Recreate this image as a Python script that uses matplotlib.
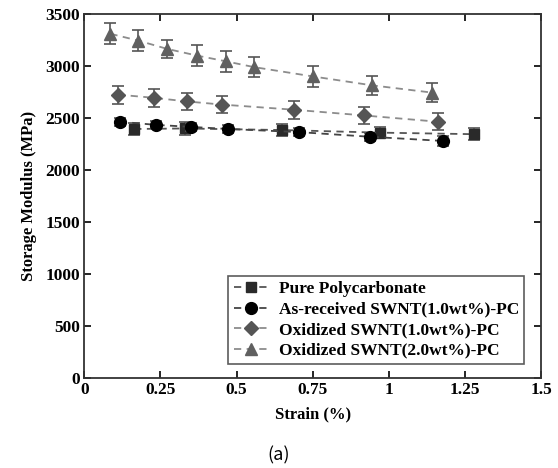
import matplotlib
matplotlib.use("Agg")
import matplotlib.pyplot as plt

# Storage modulus vs strain
pc_strain = [0.164, 0.330, 0.650, 0.970, 1.280]
pc_mod = [2395, 2400, 2385, 2360, 2345]
pc_err = [60, 60, 60, 55, 55]

asr_strain = [0.116, 0.234, 0.351, 0.473, 0.705, 0.939, 1.179]
asr_mod = [2465, 2435, 2415, 2395, 2365, 2320, 2280]
asr_err = [40, 35, 35, 35, 35, 40, 45]

ox1_strain = [0.111, 0.228, 0.336, 0.451, 0.689, 0.919, 1.160]
ox1_mod = [2725, 2695, 2660, 2630, 2580, 2525, 2465]
ox1_err = [85, 85, 80, 85, 85, 85, 80]

ox2_strain = [0.086, 0.177, 0.272, 0.371, 0.466, 0.557, 0.751, 0.944, 1.141]
ox2_mod = [3310, 3245, 3165, 3100, 3045, 2990, 2900, 2815, 2745]
ox2_err = [100, 100, 90, 100, 100, 95, 100, 90, 90]

labels = ["Pure Polycarbonate", "As-received SWNT(1.0wt%)-PC",
          "Oxidized SWNT(1.0wt%)-PC", "Oxidized SWNT(2.0wt%)-PC"]

plt.rcParams["font.family"] = ["Liberation Serif", "DejaVu Serif"]
plt.rcParams["font.weight"] = "bold"

fig = plt.figure(figsize=(5.58, 4.68), dpi=100)
ax = fig.add_axes([0.151, 0.192, 0.819, 0.778])

series = [
    (pc_strain, pc_mod, pc_err, "s", "#2a2a2a", "#555555", 7),
    (asr_strain, asr_mod, asr_err, "o", "#000000", "#444444", 8.5),
    (ox1_strain, ox1_mod, ox1_err, "D", "#555555", "#8c8c8c", 7),
    (ox2_strain, ox2_mod, ox2_err, "^", "#606060", "#8c8c8c", 9),
]
for (x, y, e, m, c, lc, ms), lab in zip(series, labels):
    # error bars first, then the dashed trend line with markers on top
    ax.errorbar(x, y, yerr=e, fmt="none", ecolor="#555555", elinewidth=1.2,
                capsize=4, capthick=1.2)
    ax.plot(x, y, linestyle=(0, (4, 3)), color=lc, lw=1.3,
            marker=m, ms=ms, mfc=c, mec=c, label=lab)

ax.set_xlim(0, 1.5)
ax.set_ylim(0, 3500)
ax.set_xticks([0, 0.25, 0.5, 0.75, 1, 1.25, 1.5])
ax.set_xticklabels(["0", "0.25", "0.5", "0.75", "1", "1.25", "1.5"])
ax.set_yticks(range(0, 3501, 500))
ax.tick_params(direction="in", top=True, right=True, length=5, width=1.2,
               labelsize=12.5, pad=3)
for sp in ax.spines.values():
    sp.set_linewidth(1.3)
    sp.set_color("#333333")

ax.set_xlabel("Strain (%)", fontsize=12, fontweight="bold", labelpad=6)
ax.set_ylabel("Storage Modulus (MPa)", fontsize=12, fontweight="bold",
              labelpad=6)

leg = ax.legend(loc="lower right", fontsize=12.5, frameon=True, fancybox=False,
                edgecolor="#333333", handlelength=2.0, handletextpad=0.6,
                borderpad=0.3, labelspacing=0.25, bbox_to_anchor=(0.982, 0.015))
leg.get_frame().set_linewidth(1.2)

fig.text(0.5, 0.028, "(a)", ha="center", va="center", fontsize=13,
         family=["Noto Sans CJK KR", "DejaVu Sans"], fontweight="normal")

fig.savefig("out.png", dpi=100)
